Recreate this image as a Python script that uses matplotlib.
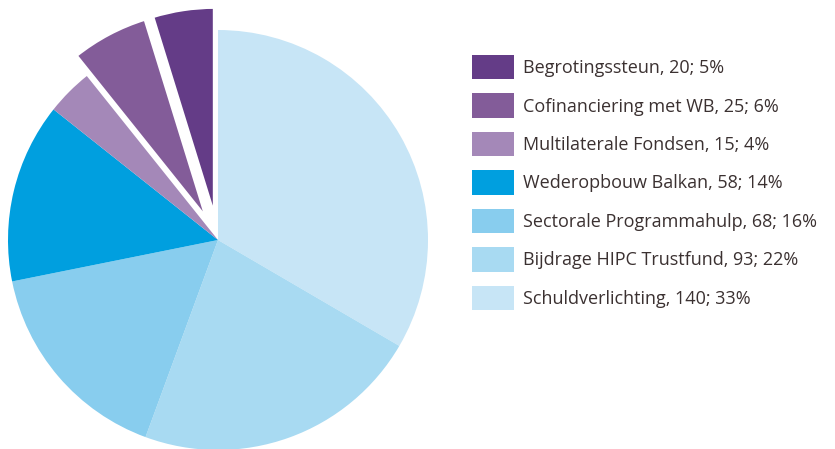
import matplotlib.pyplot as plt
from matplotlib.patches import Patch

# data (clockwise from 12 o'clock)
labels = ["Schuldverlichting", "Bijdrage HIPC Trustfund", "Sectorale Programmahulp",
          "Wederopbouw Balkan", "Multilaterale Fondsen", "Cofinanciering met WB",
          "Begrotingssteun"]
values = [140, 93, 68, 58, 15, 25, 20]
percents = [33, 22, 16, 14, 4, 6, 5]
colors = ["#c7e5f6", "#a8daf2", "#88cdee", "#009fdf", "#a488b8", "#835c99", "#643c87"]
explode = [0, 0, 0, 0, 0, 0.11, 0.11]

plt.rcParams['font.family'] = ['Open Sans', 'DejaVu Sans']

fig = plt.figure(figsize=(8.35, 4.49), dpi=100)
ax = fig.add_axes([0, 0, 1, 1])

wedges, _ = ax.pie(values, colors=colors, explode=explode, startangle=90,
                   counterclock=False, radius=1.0)
for w, e in zip(wedges, explode):
    if e > 0:
        w.set_edgecolor("white")
        w.set_linewidth(2.5)

# map 1 unit = 210 px, centre at (218, 240) from top-left
ax.set_xlim(-218 / 210, (835 - 218) / 210)
ax.set_ylim(-(449 - 240) / 210, 240 / 210)
ax.set_aspect("equal")
ax.axis("off")

handles = [Patch(facecolor=c, edgecolor="none") for c in colors]
texts = [f"{l}, {v}; {p}%" for l, v, p in zip(labels, values, percents)]
leg = fig.legend(handles[::-1], texts[::-1], loc="upper left",
                 bbox_to_anchor=(472 / 835, 1 - 55 / 449), frameon=False,
                 fontsize=13, handlelength=2.35, handleheight=1.7,
                 handletextpad=0.5, labelspacing=0.78, borderpad=0, borderaxespad=0)
for t in leg.get_texts():
    t.set_color("#3b3131")

fig.savefig("out.png", dpi=100)
